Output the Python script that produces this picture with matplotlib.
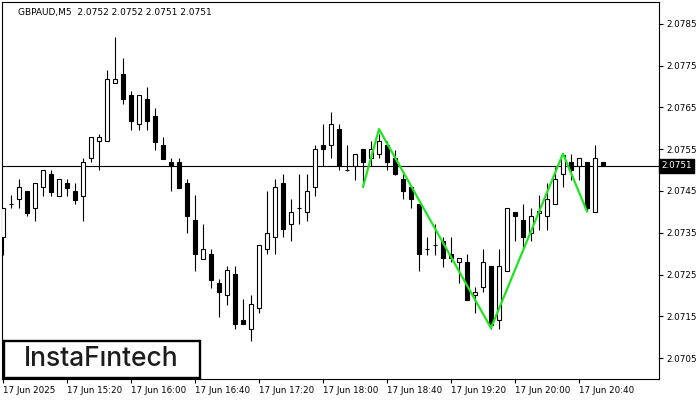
import matplotlib
matplotlib.use("Agg")
import matplotlib.pyplot as plt
from matplotlib.patches import Rectangle

# bougies M5, une par 5 minutes a partir de 14:40
ouvertures = [2.07340, 2.07419, 2.07430, 2.07449, 2.07409, 2.07459, 2.07491, 2.07439, 2.07469, 2.07450,
              2.07439, 2.07528, 2.07569, 2.07569, 2.07708, 2.07730, 2.07679, 2.07610, 2.07670, 2.07630,
              2.07560, 2.07519, 2.07519, 2.07469, 2.07381, 2.07288, 2.07299, 2.07229, 2.07200, 2.07251,
              2.07141, 2.07119, 2.07169, 2.07311, 2.07339, 2.07469, 2.07370, 2.07409, 2.07399, 2.07459,
              2.07560, 2.07560, 2.07599, 2.07500, 2.07510, 2.07550, 2.07528, 2.07538, 2.07560, 2.07528,
              2.07479, 2.07459, 2.07419, 2.07311, 2.07320, 2.07329, 2.07299, 2.07279, 2.07280, 2.07200,
              2.07220, 2.07270, 2.07140, 2.07259, 2.07399, 2.07381, 2.07349, 2.07398, 2.07389, 2.07418,
              2.07490, 2.07519, 2.07510, 2.07519, 2.07399, 2.07520]
hauts = [2.07410, 2.07441, 2.07479, 2.07450, 2.07469, 2.07500, 2.07500, 2.07478, 2.07479, 2.07469,
         2.07528, 2.07579, 2.07587, 2.07740, 2.07819, 2.07768, 2.07690, 2.07679, 2.07699, 2.07648,
         2.07579, 2.07528, 2.07528, 2.07479, 2.07441, 2.07371, 2.07311, 2.07239, 2.07271, 2.07271,
         2.07191, 2.07201, 2.07321, 2.07450, 2.07479, 2.07490, 2.07430, 2.07490, 2.07490, 2.07560,
         2.07611, 2.07639, 2.07611, 2.07560, 2.07538, 2.07550, 2.07570, 2.07587, 2.07570, 2.07548,
         2.07490, 2.07459, 2.07419, 2.07340, 2.07370, 2.07340, 2.07340, 2.07289, 2.07299, 2.07220,
         2.07311, 2.07270, 2.07311, 2.07409, 2.07399, 2.07418, 2.07409, 2.07441, 2.07470, 2.07508,
         2.07539, 2.07539, 2.07528, 2.07519, 2.07560, 2.07520]
bas = [2.07297, 2.07410, 2.07410, 2.07389, 2.07379, 2.07439, 2.07439, 2.07439, 2.07439, 2.07418,
       2.07379, 2.07519, 2.07499, 2.07569, 2.07708, 2.07657, 2.07596, 2.07596, 2.07596, 2.07548,
       2.07527, 2.07449, 2.07458, 2.07349, 2.07259, 2.07288, 2.07218, 2.07149, 2.07178, 2.07119,
       2.07131, 2.07090, 2.07159, 2.07299, 2.07299, 2.07339, 2.07329, 2.07370, 2.07379, 2.07439,
       2.07510, 2.07528, 2.07499, 2.07498, 2.07477, 2.07460, 2.07510, 2.07528, 2.07499, 2.07488,
       2.07430, 2.07408, 2.07259, 2.07297, 2.07297, 2.07269, 2.07279, 2.07229, 2.07189, 2.07159,
       2.07209, 2.07120, 2.07119, 2.07259, 2.07329, 2.07311, 2.07329, 2.07357, 2.07357, 2.07418,
       2.07459, 2.07477, 2.07477, 2.07402, 2.07399, 2.07510]
fermetures = [2.07410, 2.07419, 2.07459, 2.07398, 2.07469, 2.07500, 2.07448, 2.07478, 2.07458, 2.07429,
              2.07519, 2.07579, 2.07580, 2.07718, 2.07718, 2.07670, 2.07618, 2.07679, 2.07618, 2.07568,
              2.07527, 2.07510, 2.07458, 2.07389, 2.07298, 2.07311, 2.07237, 2.07209, 2.07260, 2.07131,
              2.07131, 2.07180, 2.07321, 2.07349, 2.07459, 2.07359, 2.07399, 2.07409, 2.07449, 2.07550,
              2.07550, 2.07611, 2.07510, 2.07500, 2.07538, 2.07518, 2.07550, 2.07569, 2.07518, 2.07490,
              2.07449, 2.07430, 2.07298, 2.07311, 2.07320, 2.07289, 2.07289, 2.07289, 2.07189, 2.07209,
              2.07280, 2.07130, 2.07270, 2.07409, 2.07389, 2.07339, 2.07390, 2.07402, 2.07431, 2.07478,
              2.07536, 2.07499, 2.07528, 2.07409, 2.07528, 2.07510]

etiquettes_x = ["17 Jun 2025", "17 Jun 15:20", "17 Jun 16:00", "17 Jun 16:40", "17 Jun 17:20",
                "17 Jun 18:00", "17 Jun 18:40", "17 Jun 19:20", "17 Jun 20:00", "17 Jun 20:40"]
graduations_prix = [2.0705, 2.0715, 2.0725, 2.0735, 2.0745, 2.0755, 2.0765, 2.0775, 2.0785]

# figure verte (triple sommet / tete-epaules inverse)
motif_idx = [45, 47, 61, 70, 73]
motif_prix = [2.07460, 2.07598, 2.07122, 2.07539, 2.07401]

dernier_prix = 2.0751
titre = "GBPAUD,M5  2.0752 2.0752 2.0751 2.0751"

fig = plt.figure(figsize=(7, 4), dpi=100)
ax = fig.add_axes([2 / 700, 21 / 400, 657 / 700, 377 / 400])

for i in range(len(ouvertures)):
    o, h, l, c = ouvertures[i], hauts[i], bas[i], fermetures[i]
    ax.vlines(i, l, h, color="black", lw=0.8, zorder=2)
    couleur = "white" if c >= o else "black"
    ax.bar(i, abs(c - o), 0.6, min(o, c), facecolor=couleur, edgecolor="black", lw=0.8, zorder=3)

ax.axhline(dernier_prix, color="black", lw=0.8, zorder=1)
ax.plot(motif_idx, motif_prix, color="#1ee61e", lw=1.6, zorder=4)

ax.set_xlim(-0.125, 82)
ax.set_ylim(2.07000, 2.07902)

ax.set_xticks(list(range(0, 80, 8)))
ax.set_xticklabels(etiquettes_x)
for t in ax.get_xticklabels():
    t.set_ha("left")
ax.set_yticks(graduations_prix)
ax.set_yticklabels([f"{p:.4f}" for p in graduations_prix])
ax.yaxis.tick_right()
ax.tick_params(axis="both", direction="out", length=3, width=0.8, labelsize=6.3, colors="black")
ax.tick_params(axis="x", pad=2)
ax.tick_params(axis="y", pad=2)
for s in ax.spines.values():
    s.set_linewidth(0.8)

ax.text(0.025, 0.985, titre, transform=ax.transAxes, fontsize=6.5, va="top", ha="left")

# etiquette du dernier prix
ax.text(1.004, dernier_prix, "2.0751", transform=ax.get_yaxis_transform(), fontsize=6.3,
        color="white", va="center", ha="left",
        bbox=dict(boxstyle="square,pad=0.25", facecolor="black", edgecolor="black"))

# logo
fig.patches.append(Rectangle((4 / 700, 22 / 400), 196 / 700, 37 / 400, transform=fig.transFigure,
                             facecolor="white", edgecolor="black", lw=1.7, zorder=5))
fig.text(101.5 / 700, 0.1025, "InstaF\u0131ntech", family=["Inter", "DejaVu Sans"], fontsize=19,
         weight="medium", color="#1c1c1c", ha="center", va="center", zorder=6)

fig.savefig("out.png", dpi=100)
